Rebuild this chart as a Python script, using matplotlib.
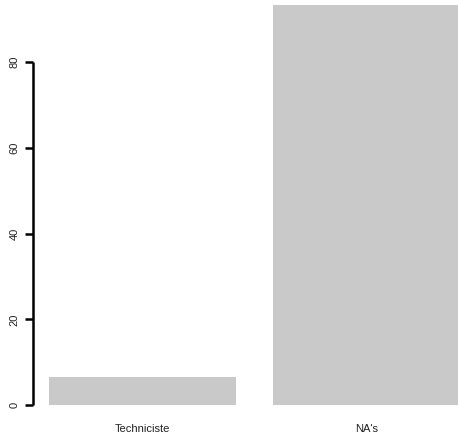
import matplotlib
matplotlib.use("Agg")
import matplotlib.pyplot as plt

categories = ["Techniciste", "NA's"]
values = [6.5, 93.2]
yticks = [0, 20, 40, 60, 80]

W, H, DPI = 458, 442, 100
fig = plt.figure(figsize=(W / DPI, H / DPI), dpi=DPI)
plt.rcParams['font.family'] = ['Liberation Sans', 'DejaVu Sans']

left_px, bottom_px = 33, 405.3
ax = fig.add_axes([left_px / W, (H - bottom_px) / H, (W - left_px) / W, bottom_px / H])

width = 1.0
space = 0.2
lefts = [space + i * (width + space) for i in range(len(values))]
centers = [l + width / 2 for l in lefts]
ax.bar(centers, values, width=width, color="#C9C9C9", edgecolor="none")

px_per_x = 187.0
px_per_y = 4.295
ax.set_xlim(0.2 - (49 - left_px) / px_per_x, 0.2 + (W - 49) / px_per_x)
ax.set_ylim(0, bottom_px / px_per_y)

for s in ["top", "right", "bottom"]:
    ax.spines[s].set_visible(False)
ax.spines["left"].set_bounds(0, 80)
ax.spines["left"].set_linewidth(1.8)
ax.spines["left"].set_capstyle("butt")

ax.set_yticks(yticks)
ax.set_yticklabels([str(v) for v in yticks], rotation=90, va="center", fontsize=8, color="#222222")
ax.tick_params(axis="y", length=6, width=1.8, pad=3.5)

ax.set_xticks(centers)
ax.set_xticklabels(categories, fontsize=8, color="#222222")
ax.tick_params(axis="x", length=0, pad=13.5)

ax.patch.set_visible(False)
fig.savefig("out.png", dpi=DPI, facecolor="white")
